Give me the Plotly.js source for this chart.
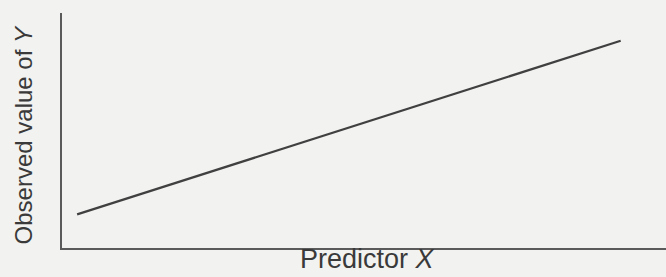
<!DOCTYPE html>
<html>
<head>
<meta charset="utf-8">
<script src="https://cdn.plot.ly/plotly-3.0.1.min.js"></script>
<style>html,body{margin:0;padding:0;background:#f2f2f0;}#chart{width:666px;height:277px;}</style>
</head>
<body>
<div id="chart"></div>
<script>
const xValues = [0.25, 9.25];
const yValues = [1.43, 8.82];
const xTitle = 'Predictor <i>X</i>';
const yTitle = 'Observed value of <i>Y</i>';

const trace = {
  x: xValues,
  y: yValues,
  type: 'scatter',
  mode: 'lines',
  line: {color: '#404040', width: 2.2},
  hoverinfo: 'skip'
};

const titleColor = '#3a3a3a';

const layout = {
  width: 666,
  height: 277,
  margin: {l: 62, r: 0, t: 13, b: 29},
  paper_bgcolor: '#f2f2f0',
  plot_bgcolor: '#f2f2f0',
  showlegend: false,
  font: {family: 'Liberation Sans, Arial, sans-serif', color: titleColor},
  xaxis: {
    range: [0, 10],
    showline: true, linecolor: '#5a5a5a', linewidth: 1.6,
    showgrid: false, zeroline: false, showticklabels: false, ticks: ''
  },
  yaxis: {
    range: [0, 10],
    showline: true, linecolor: '#5a5a5a', linewidth: 1.6,
    showgrid: false, zeroline: false, showticklabels: false, ticks: ''
  },
  annotations: [
    {
      text: xTitle, xref: 'paper', yref: 'paper', x: 0.5, y: 0,
      xanchor: 'center', yanchor: 'bottom', xshift: 3, yshift: -28,
      showarrow: false, font: {size: 27, color: titleColor}
    },
    {
      text: yTitle, xref: 'paper', yref: 'paper', x: 0, y: 0.479,
      xanchor: 'center', yanchor: 'middle', xshift: -39, textangle: -90,
      showarrow: false, font: {size: 24, color: titleColor}
    }
  ]
};

Plotly.newPlot('chart', [trace], layout, {displayModeBar: false, staticPlot: true});
</script>
</body>
</html>
